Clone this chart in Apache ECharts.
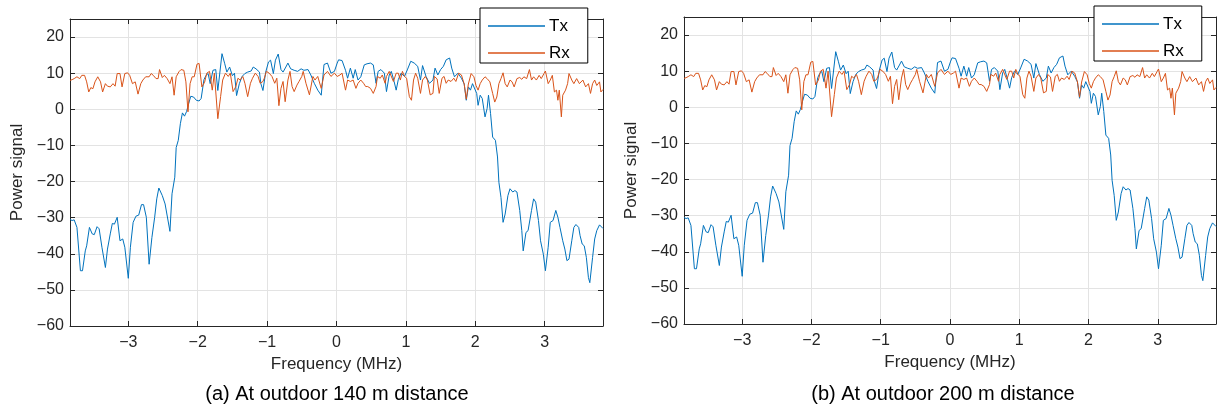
<!DOCTYPE html>
<html>
<head>
<meta charset="utf-8">
<title>Tx / Rx power spectrum</title>
<script src="https://cdn.jsdelivr.net/npm/echarts@6/dist/echarts.min.js"></script>
<style>
  html, body { margin: 0; padding: 0; background: #fff; }
  #chart { width: 1218px; height: 407px; }
</style>
</head>
<body>
<div id="chart"></div>
<script>
// Frequency (MHz) and power of the transmitted spectrum
const txFreq = [
  -3.84, -3.81, -3.78, -3.74, -3.69, -3.66, -3.62, -3.60, -3.56, -3.52, -3.49, -3.45, -3.42, -3.38, -3.33, -3.30,
  -3.26, -3.23, -3.20, -3.16, -3.12, -3.08, -3.05, -3.00, -2.97, -2.93, -2.89, -2.85, -2.81, -2.78, -2.74, -2.70,
  -2.66, -2.62, -2.59, -2.56, -2.51, -2.47, -2.40, -2.37, -2.33, -2.31, -2.28, -2.25, -2.22, -2.19, -2.16, -2.13,
  -2.10, -2.06, -2.02, -1.98, -1.95, -1.91, -1.88, -1.85, -1.82, -1.78, -1.74, -1.71, -1.65, -1.61, -1.58, -1.54,
  -1.50, -1.47, -1.44, -1.40, -1.36, -1.32, -1.28, -1.23, -1.20, -1.16, -1.11, -1.09, -1.06, -1.02, -0.98, -0.95,
  -0.91, -0.88, -0.84, -0.80, -0.77, -0.73, -0.70, -0.66, -0.61, -0.56, -0.51, -0.47, -0.41, -0.37, -0.32, -0.27,
  -0.22, -0.18, -0.13, -0.08, -0.03, 0.01, 0.03, 0.08, 0.13, 0.16, 0.20, 0.24, 0.27, 0.31, 0.35, 0.40,
  0.44, 0.49, 0.53, 0.57, 0.60, 0.64, 0.69, 0.72, 0.76, 0.79, 0.83, 0.86, 0.89, 0.93, 0.98, 1.02,
  1.07, 1.12, 1.17, 1.21, 1.24, 1.29, 1.34, 1.39, 1.42, 1.46, 1.50, 1.54, 1.58, 1.63, 1.66, 1.70,
  1.75, 1.80, 1.84, 1.87, 1.90, 1.93, 1.96, 1.98, 2.02, 2.04, 2.07, 2.10, 2.14, 2.17, 2.19, 2.22,
  2.25, 2.29, 2.32, 2.34, 2.37, 2.40, 2.43, 2.47, 2.50, 2.54, 2.57, 2.60, 2.64, 2.67, 2.69, 2.73,
  2.76, 2.81, 2.84, 2.87, 2.91, 2.94, 2.98, 3.01, 3.05, 3.08, 3.12, 3.16, 3.19, 3.22, 3.26, 3.29,
  3.32, 3.35, 3.39, 3.42, 3.45, 3.49, 3.51, 3.54, 3.57, 3.60, 3.63, 3.65, 3.69, 3.72, 3.75, 3.79,
  3.81, 3.84
];
const txPower = [
  -30.5, -30.8, -30.6, -32.7, -44.7, -44.7, -39.2, -37.8, -32.7, -34.5, -34.7, -32.5, -33.1, -38.2, -43.8, -38.7,
  -34.5, -31.6, -31.8, -29.9, -36.4, -35.9, -38.2, -46.8, -38.2, -31.3, -29.6, -29.3, -26.4, -26.4, -29.9, -42.9,
  -35.5, -29.9, -24.8, -21.8, -23.9, -26.2, -33.8, -23.4, -18.8, -10.6, -8.6, -4.0, -1.0, -1.9, -0.6, 1.6,
  3.6, 3.4, 2.5, 2.3, 3.0, 8.2, 9.4, 9.9, 7.1, 10.8, 11.0, 5.2, 15.4, 12.6, 10.3, 11.7,
  9.3, 10.0, 3.8, 7.1, 9.1, 9.9, 10.3, 10.6, 11.7, 11.2, 10.3, 7.1, 5.2, 10.3, 13.1, 13.6,
  9.9, 13.6, 15.3, 11.0, 10.3, 11.7, 12.8, 11.2, 10.8, 10.5, 11.2, 10.8, 11.0, 9.5, 7.2, 5.3,
  3.9, 12.4, 12.8, 10.0, 10.5, 12.8, 13.7, 13.5, 10.8, 8.6, 11.4, 8.6, 11.0, 8.1, 9.0, 12.3,
  12.6, 12.8, 12.3, 7.2, 10.5, 11.0, 10.0, 4.9, 9.5, 10.5, 7.7, 5.3, 8.2, 10.0, 9.1, 10.9,
  13.3, 12.8, 11.9, 8.1, 12.1, 9.1, 7.2, 8.1, 11.4, 9.5, 11.0, 11.9, 13.7, 14.2, 11.4, 9.0,
  10.0, 8.6, 7.0, 2.5, 6.2, 5.3, 7.1, 7.1, 4.4, 1.1, 3.9, 3.0, -2.1, 0.2, 3.9, -1.2,
  -7.7, -8.6, -13.2, -20.2, -24.4, -31.3, -29.0, -23.9, -22.0, -22.9, -22.5, -22.9, -28.0, -33.6, -39.2, -34.1,
  -33.6, -28.0, -24.8, -25.7, -30.8, -36.4, -40.1, -44.7, -38.2, -31.3, -30.8, -28.0, -29.9, -32.7, -36.4, -38.7,
  -41.9, -41.5, -36.4, -32.7, -31.9, -32.7, -35.0, -37.3, -37.8, -41.0, -46.6, -48.0, -41.0, -35.9, -33.6, -32.0,
  -31.5, -33.0
];

// Frequency (MHz) and power of the received spectrum
const rxFreq = [
  -3.84, -3.81, -3.78, -3.74, -3.70, -3.67, -3.63, -3.60, -3.57, -3.54, -3.51, -3.48, -3.44, -3.40, -3.37, -3.33,
  -3.30, -3.26, -3.22, -3.19, -3.16, -3.12, -3.09, -3.05, -3.01, -2.98, -2.94, -2.90, -2.86, -2.82, -2.79, -2.75,
  -2.70, -2.67, -2.64, -2.60, -2.57, -2.55, -2.51, -2.48, -2.44, -2.40, -2.37, -2.34, -2.31, -2.27, -2.24, -2.20,
  -2.17, -2.14, -2.11, -2.08, -2.05, -2.01, -1.98, -1.94, -1.90, -1.87, -1.83, -1.79, -1.76, -1.71, -1.67, -1.64,
  -1.60, -1.56, -1.53, -1.49, -1.45, -1.42, -1.39, -1.35, -1.32, -1.28, -1.24, -1.21, -1.17, -1.13, -1.10, -1.06,
  -1.04, -1.01, -0.97, -0.93, -0.89, -0.86, -0.83, -0.80, -0.77, -0.74, -0.70, -0.67, -0.64, -0.61, -0.57, -0.54,
  -0.50, -0.48, -0.44, -0.39, -0.34, -0.31, -0.27, -0.22, -0.18, -0.13, -0.08, -0.03, 0.01, 0.05, 0.08, 0.13,
  0.16, 0.20, 0.24, 0.28, 0.31, 0.35, 0.39, 0.42, 0.45, 0.49, 0.53, 0.57, 0.59, 0.63, 0.66, 0.70,
  0.72, 0.76, 0.78, 0.82, 0.86, 0.89, 0.92, 0.95, 0.98, 1.01, 1.05, 1.08, 1.11, 1.14, 1.17, 1.21,
  1.24, 1.28, 1.31, 1.35, 1.39, 1.41, 1.45, 1.48, 1.52, 1.55, 1.58, 1.61, 1.65, 1.69, 1.72, 1.76,
  1.80, 1.84, 1.87, 1.90, 1.94, 1.98, 2.01, 2.04, 2.07, 2.10, 2.14, 2.17, 2.21, 2.25, 2.28, 2.31,
  2.34, 2.37, 2.40, 2.43, 2.46, 2.50, 2.53, 2.56, 2.60, 2.64, 2.67, 2.70, 2.74, 2.78, 2.81, 2.84,
  2.88, 2.92, 2.95, 2.99, 3.01, 3.05, 3.08, 3.11, 3.14, 3.17, 3.19, 3.21, 3.24, 3.26, 3.30, 3.33,
  3.35, 3.39, 3.42, 3.46, 3.50, 3.52, 3.55, 3.59, 3.63, 3.66, 3.69, 3.72, 3.75, 3.79, 3.81, 3.84
];
const rxPower = [
  8.0, 8.2, 8.5, 9.0, 8.5, 9.4, 9.4, 7.6, 4.8, 6.0, 5.7, 7.6, 9.0, 7.6, 4.8, 7.1,
  6.4, 6.2, 7.1, 6.4, 9.9, 9.9, 6.2, 9.9, 10.1, 9.4, 7.1, 7.6, 4.2, 7.1, 8.1, 9.0,
  9.0, 9.9, 9.4, 8.5, 8.5, 11.0, 8.8, 9.4, 8.5, 7.1, 9.0, 3.9, 9.0, 10.4, 11.0, 10.8,
  7.6, -0.7, 7.1, 9.0, 9.0, 12.5, 12.7, 6.2, 7.5, 10.0, 10.5, 5.3, 10.0, -2.6, 3.5, 8.1,
  10.0, 9.1, 10.0, 4.9, 6.3, 8.6, 8.1, 9.1, 7.2, 3.5, 7.2, 8.6, 10.0, 9.1, 7.2, 7.7,
  8.6, 10.5, 10.0, 9.1, 7.2, 8.6, 1.0, 5.8, 7.7, 2.1, 8.1, 10.5, 6.3, 4.9, 6.7, 7.7,
  9.1, 10.5, 7.2, 4.0, 9.1, 8.1, 9.1, 5.8, 9.5, 10.5, 9.1, 10.0, 9.1, 9.5, 10.0, 5.3,
  8.1, 7.7, 8.1, 5.8, 7.2, 8.1, 7.2, 6.3, 6.3, 5.8, 4.4, 6.3, 9.1, 8.6, 9.5, 7.2,
  9.1, 10.5, 10.0, 7.7, 10.0, 10.0, 8.1, 10.5, 9.1, 8.6, 3.5, 2.5, 8.1, 10.0, 8.6, 4.4,
  8.1, 9.1, 8.1, 4.0, 4.4, 9.1, 8.4, 4.4, 8.6, 9.1, 7.2, 8.1, 7.7, 8.6, 7.7, 10.0,
  9.5, 7.0, 2.8, 7.0, 9.9, 9.0, 6.6, 5.3, 7.1, 8.1, 9.0, 8.5, 7.6, 4.4, 2.0, 3.4,
  7.1, 8.5, 10.1, 7.1, 6.2, 8.1, 7.6, 6.2, 8.5, 8.8, 8.3, 9.0, 8.5, 11.0, 8.1, 9.0,
  8.1, 9.4, 8.5, 9.9, 10.6, 7.1, 8.1, 9.4, 4.8, 5.3, 2.5, 5.3, -2.1, 3.9, 5.3, 7.1,
  9.9, 8.1, 7.1, 8.5, 7.1, 7.6, 8.1, 6.2, 7.1, 4.4, 7.1, 8.1, 6.6, 7.6, 4.8, 5.5
];

// Axis tick positions
const freqTicks = [-3, -2, -1, 0, 1, 2, 3];
const powerMin = -60;
const powerMax = 25;
const powerStep = 10;

// Panel captions
const captions = ['(a) At outdoor 140 m distance', '(b) At outdoor 200 m distance'];

const FONT = 'Liberation Sans';
const INK = '#262626';
const GRID_LINE = '#e3e3e3';
const TX_COLOR = '#0072BD';
const RX_COLOR = '#D95319';

const minus = v => String(v).replace('-', '\u2212');

const panels = [
  { left: 70, top: 19, width: 533, height: 307, legendLeft: 480, legendTop: 8, captionX: 337 },
  { left: 684, top: 17, width: 532, height: 307, legendLeft: 1094, legendTop: 6, captionX: 943 }
];

const grids = [], xAxes = [], yAxes = [], series = [], legends = [], graphics = [];

panels.forEach((p, i) => {
  grids.push({ left: p.left, top: p.top, width: p.width, height: p.height, containLabel: false });

  const xBase = {
    type: 'value', gridIndex: i, min: -3.84, max: 3.84,
    axisLine: { show: true, onZero: false, lineStyle: { color: INK, width: 1 } },
    axisTick: { show: true, inside: true, length: 5, customValues: freqTicks, lineStyle: { color: INK } }
  };
  // bottom frequency axis with labels and vertical grid lines
  xAxes.push(Object.assign({}, xBase, {
    position: 'bottom',
    axisLabel: { customValues: freqTicks, color: INK, fontFamily: FONT, fontSize: 16, margin: 9, formatter: minus },
    splitLine: { show: true, lineStyle: { color: GRID_LINE, width: 1 } },
    name: 'Frequency (MHz)', nameLocation: 'middle', nameGap: 29,
    nameTextStyle: { color: INK, fontFamily: FONT, fontSize: 17 }
  }));
  // top frame edge
  xAxes.push(Object.assign({}, xBase, {
    position: 'top', axisLabel: { show: false }, splitLine: { show: false }
  }));

  const yBase = {
    type: 'value', gridIndex: i, min: powerMin, max: powerMax, interval: powerStep,
    axisLine: { show: true, onZero: false, lineStyle: { color: INK, width: 1 } },
    axisTick: { show: true, inside: true, length: 5, lineStyle: { color: INK } }
  };
  yAxes.push(Object.assign({}, yBase, {
    position: 'left',
    axisLabel: { color: INK, fontFamily: FONT, fontSize: 16, margin: 6, showMaxLabel: false, formatter: minus },
    splitLine: { show: true, lineStyle: { color: GRID_LINE, width: 1 } },
    name: 'Power signal', nameLocation: 'middle', nameGap: 44,
    nameTextStyle: { color: INK, fontFamily: FONT, fontSize: 17 }
  }));
  yAxes.push(Object.assign({}, yBase, {
    position: 'right', axisLabel: { show: false }, splitLine: { show: false }
  }));

  series.push({
    name: 'Tx', type: 'line', xAxisIndex: 2 * i, yAxisIndex: 2 * i,
    data: txFreq.map((f, k) => [f, txPower[k]]),
    showSymbol: false, symbol: 'none', lineStyle: { color: TX_COLOR, width: 1 }, itemStyle: { color: TX_COLOR },
    emphasis: { disabled: true }
  });
  series.push({
    name: 'Rx', type: 'line', xAxisIndex: 2 * i, yAxisIndex: 2 * i,
    data: rxFreq.map((f, k) => [f, rxPower[k]]),
    showSymbol: false, symbol: 'none', lineStyle: { color: RX_COLOR, width: 1 }, itemStyle: { color: RX_COLOR },
    emphasis: { disabled: true }
  });

  legends.push({
    orient: 'vertical', left: p.legendLeft, top: p.legendTop,
    data: [{ name: 'Tx', icon: 'rect' }, { name: 'Rx', icon: 'rect' }],
    itemWidth: 57, itemHeight: 1.5, itemGap: 9,
    padding: [9, 18, 1, 8],
    backgroundColor: '#fff', borderColor: '#000', borderWidth: 1, borderRadius: 0,
    textStyle: { color: '#000', fontFamily: FONT, fontSize: 17, lineHeight: 18, padding: [0, 0, 0, -1] },
    selectedMode: false
  });

  graphics.push({
    type: 'text', x: p.captionX, y: 394,
    style: { text: captions[i], fill: '#000', fontFamily: FONT, fontSize: 20, align: 'center', verticalAlign: 'middle' }
  });
});

const chart = echarts.init(document.getElementById('chart'), null, { renderer: 'canvas' });
chart.setOption({
  animation: false,
  backgroundColor: '#fff',
  grid: grids,
  xAxis: xAxes,
  yAxis: yAxes,
  legend: legends,
  series: series,
  graphic: graphics
});
</script>
</body>
</html>
